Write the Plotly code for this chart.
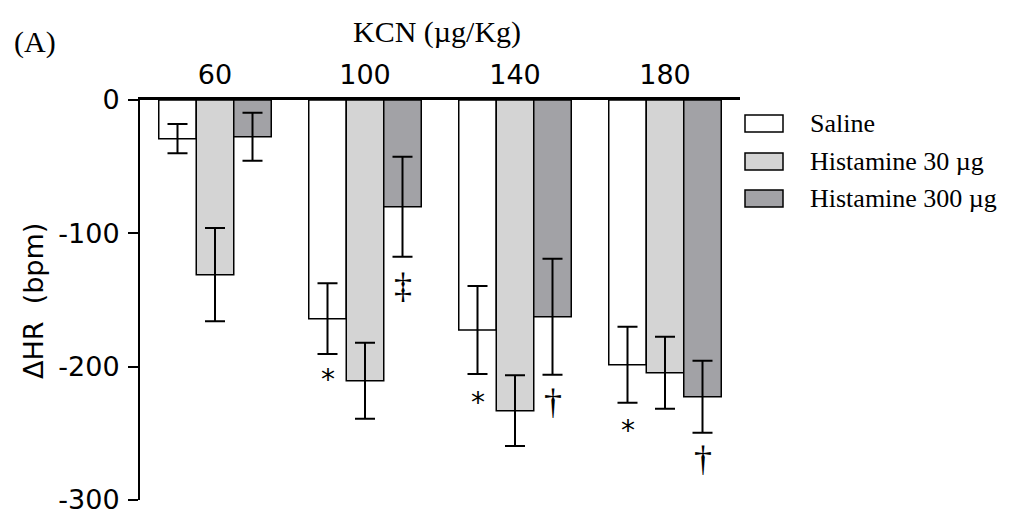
import plotly.graph_objects as go

doses = ["60", "100", "140", "180"]
series_names = ["Saline", "Histamine 30 \u00b5g", "Histamine 300 \u00b5g"]
series_colors = ["#ffffff", "#d4d4d4", "#a2a2a6"]
saline = [-29, -164, -172.5, -198.5]
saline_err = [11, 26.5, 33, 28.5]
hist30 = [-131, -210.5, -233, -204.5]
hist30_err = [35, 28.5, 26.5, 27]
hist300 = [-27.5, -80, -162.5, -222.5]
hist300_err = [18, 37.5, 43.5, 27]

# significance marks: (dose, series index, label, y position in bpm)
sig_dose = ["100", "140", "180", "100", "140", "180"]
sig_series = [0, 0, 0, 2, 2, 2]
sig_text = ["*", "*", "*", "\u2021", "\u2020", "\u2020"]
sig_y = [-205, -222, -243, -141, -228, -271]

y_ticks = [0, -100, -200, -300]
y_tick_text = ["0", "-100", "-200", "-300"]

values = [saline, hist30, hist300]
errors = [saline_err, hist30_err, hist300_err]

fig = go.Figure()
for name, col, v, e in zip(series_names, series_colors, values, errors):
    fig.add_trace(go.Bar(
        x=doses, y=v, name=name,
        marker=dict(color=col, line=dict(color="black", width=1.5)),
        error_y=dict(type="data", array=e, visible=True, color="black",
                     thickness=2, width=10),
        showlegend=False,
    ))

W, H = 1014, 516
L, R, T, B = 140, 274, 100, 16
pw = W - L - R
ph = H - T - B
bar_px = pw / len(doses) * 0.75 / 3

annotations = []
for d, s, t, yv in zip(sig_dose, sig_series, sig_text, sig_y):
    is_star = t == "*"
    annotations.append(dict(
        x=doses.index(d), y=yv, xref="x", yref="y", text=t, showarrow=False,
        xanchor="center", yanchor="middle",
        xshift=(s - 1) * bar_px,
        yshift=-6 if is_star else 2,
        font=dict(family="DejaVu Sans" if is_star else "Liberation Serif",
                  size=28 if is_star else 36, color="black"),
    ))

def px_x(p):
    return (p - L) / pw

def px_y(p):
    return (H - B - p) / ph

# custom legend (wide rectangular swatches)
leg_top = [115, 153, 190]
shapes = []
for i, (name, col) in enumerate(zip(series_names, series_colors)):
    y0 = leg_top[i]
    shapes.append(dict(type="rect", xref="paper", yref="paper",
                       x0=px_x(745), x1=px_x(783), y0=px_y(y0 + 17), y1=px_y(y0),
                       fillcolor=col, line=dict(color="black", width=1.5)))
    annotations.append(dict(xref="paper", yref="paper", x=px_x(808), y=px_y(y0 + 8.5),
                            xanchor="left", yanchor="middle", text=name, showarrow=False,
                            font=dict(family="Liberation Serif", size=26, color="black")))

annotations.append(dict(xref="paper", yref="paper", x=px_x(437), y=px_y(32),
                        xanchor="center", yanchor="middle",
                        text="KCN (\u00b5g/Kg)", showarrow=False,
                        font=dict(family="Liberation Serif", size=30, color="black")))
annotations.append(dict(xref="paper", yref="paper", x=px_x(35), y=px_y(42),
                        xanchor="center", yanchor="middle",
                        text="(A)", showarrow=False,
                        font=dict(family="Liberation Serif", size=30, color="black")))
annotations.append(dict(xref="paper", yref="paper", x=px_x(33), y=px_y(301),
                        xanchor="center", yanchor="middle",
                        text="\u0394HR  (bpm)", showarrow=False, textangle=-90,
                        font=dict(family="DejaVu Sans", size=27, color="black")))

fig.update_layout(
    width=W, height=H,
    margin=dict(l=L, r=R, t=T, b=B, pad=0, autoexpand=False),
    paper_bgcolor="white", plot_bgcolor="white",
    barmode="group", bargap=0.25, bargroupgap=0,
    showlegend=False,
    annotations=annotations, shapes=shapes,
    xaxis=dict(type="category", side="top", range=[-0.5, 3.5], automargin=False,
               showline=True, linecolor="black", linewidth=3,
               ticks="", showgrid=False, zeroline=False,
               tickfont=dict(family="DejaVu Sans", size=27, color="black"),
               ticklabelstandoff=2),
    yaxis=dict(range=[-300, 0], tickvals=y_ticks, ticktext=y_tick_text, automargin=False,
               showline=True, linecolor="black", linewidth=2,
               ticks="outside", ticklen=10, tickwidth=2, tickcolor="black",
               showgrid=False, zeroline=False,
               tickfont=dict(family="DejaVu Sans", size=27, color="black"),
               ticklabelstandoff=3),
)

fig.write_html("out.html")
